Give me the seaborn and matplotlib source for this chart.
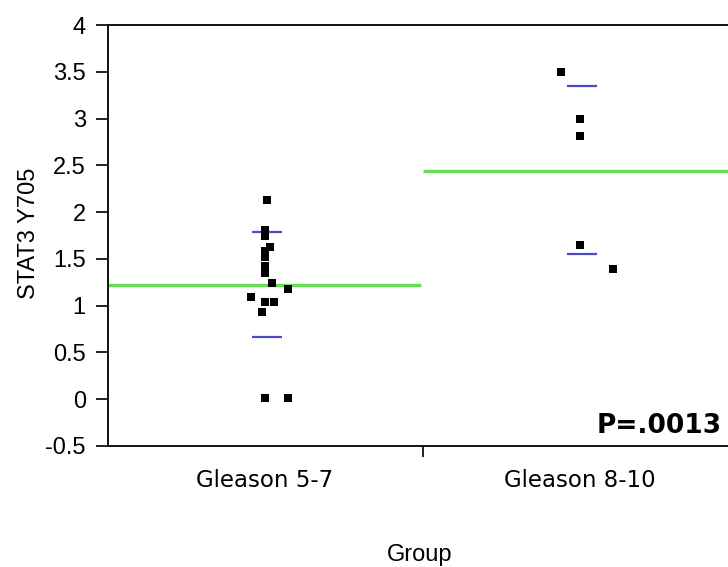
import numpy as np
import pandas as pd
import matplotlib
matplotlib.use("Agg")
import matplotlib.pyplot as plt
from matplotlib.ticker import FuncFormatter
import seaborn as sns

# ---- data ----
groups = ["Gleason 5-7", "Gleason 8-10"]
g1_values = [2.13, 1.81, 1.75, 1.63, 1.58, 1.52, 1.42, 1.35, 1.24, 1.18,
             1.09, 1.04, 1.04, 0.93, 0.01, 0.01]
g2_values = [3.50, 2.99, 2.81, 1.65, 1.39]
group_means = [1.22, 2.44]
group_upper = [1.79, 3.35]
group_lower = [0.67, 1.55]
yticks = [-0.5, 0, 0.5, 1, 1.5, 2, 2.5, 3, 3.5, 4]
p_text = "P=.0013"

# horizontal spread of the dots (style, in category units)
g1_jitter = [0.006, 0.0, 0.0, 0.016, 0.0, 0.0, 0.0, 0.0, 0.022, 0.073,
             -0.044, 0.0, 0.029, -0.010, 0.0, 0.073]
g2_jitter = [-0.060, 0.0, 0.0, 0.0, 0.105]

df = pd.DataFrame({
    "group": [groups[0]] * len(g1_values) + [groups[1]] * len(g2_values),
    "value": g1_values + g2_values,
    "jit": g1_jitter + g2_jitter,
})
df["xpos"] = df["group"].map({g: i for i, g in enumerate(groups)}) + df["jit"]

sns.set_style("white")
plt.rcParams["font.family"] = ["Liberation Sans", "DejaVu Sans"]
plt.rcParams["text.color"] = "black"
plt.rcParams["axes.labelcolor"] = "black"
plt.rcParams["xtick.color"] = "black"
plt.rcParams["ytick.color"] = "black"

fig = plt.figure(figsize=(7.28, 5.67), dpi=100)
ax = fig.add_axes([107.5 / 728, 121 / 567, 630 / 728, 421 / 567])

sns.scatterplot(data=df, x="xpos", y="value", marker="s", color="black",
                s=26, linewidth=0, ax=ax, zorder=3, legend=False)

for i in range(len(groups)):
    ax.hlines(group_means[i], i - 0.5, i + 0.495, color="#66dd55", lw=2.4, zorder=2)
    ax.hlines([group_upper[i], group_lower[i]], i - 0.04, i + 0.055,
              color="#4a4acc", lw=1.6, zorder=2)

ax.set_xlim(-0.5, 1.5)
ax.set_ylim(-0.5, 4)
ax.set_yticks(yticks)
ax.yaxis.set_major_formatter(FuncFormatter(lambda v, p: "%g" % v))
ax.set_xticks([0, 1])
ax.set_xticklabels(groups, family="DejaVu Sans", fontsize=16.5)
ax.set_xticks([0.5], minor=True)

for side in ["left", "bottom", "top"]:
    ax.spines[side].set_visible(True)
    ax.spines[side].set_linewidth(1.4)
    ax.spines[side].set_color("#111111")
ax.spines["right"].set_visible(False)

ax.tick_params(axis="y", which="major", left=True, length=8.6, width=1.3,
               color="#111111", labelsize=17, pad=7)
ax.tick_params(axis="x", which="major", bottom=True, length=0, pad=16.5)
ax.tick_params(axis="x", which="minor", bottom=True, length=8, width=1.3,
               color="#111111")

ax.set_xlabel("Group", fontsize=17)
ax.xaxis.set_label_coords(0.496, -0.233)
ax.set_ylabel("STAT3 Y705", fontsize=17)
ax.yaxis.set_label_coords(-0.107, 0.506)

fig.text(722 / 728, 1 - 433 / 567, p_text, ha="right", va="baseline",
         fontsize=19, fontweight="bold", family="DejaVu Sans")

fig.savefig("out.png", dpi=100)
